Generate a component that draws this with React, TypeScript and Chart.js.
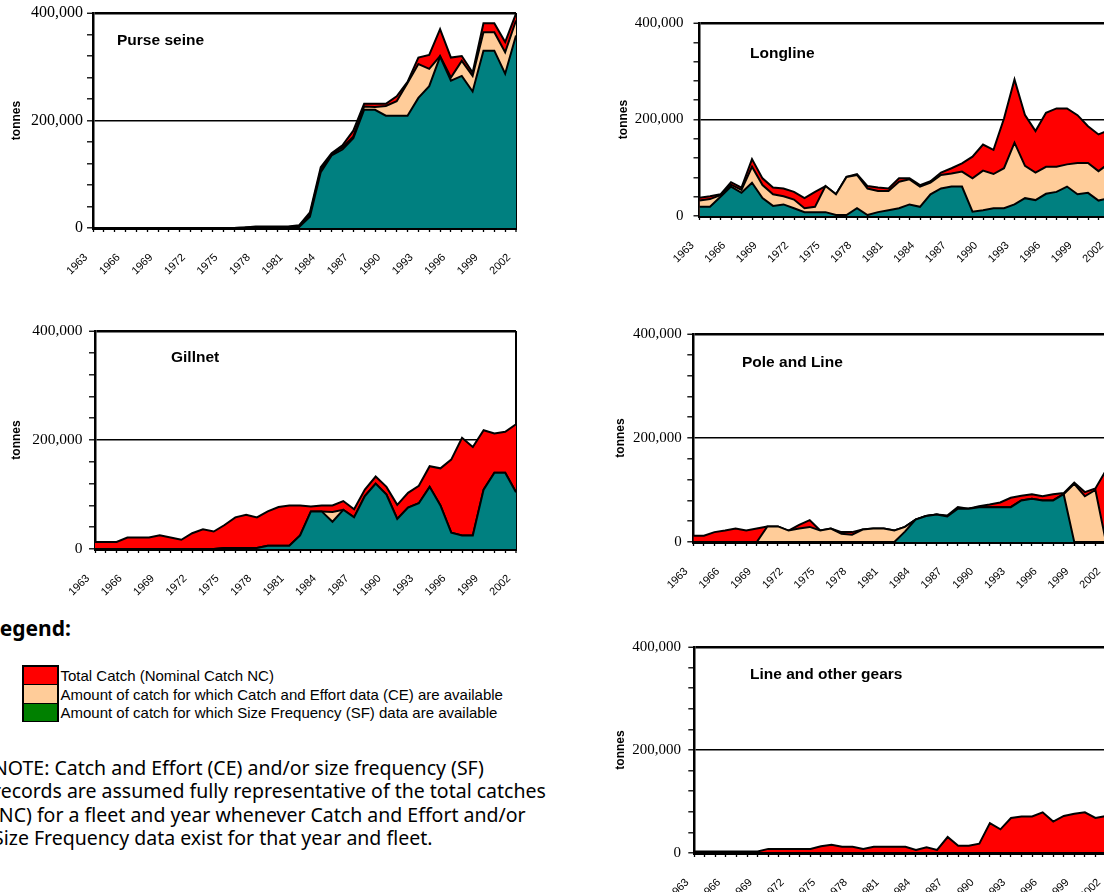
import React, { useEffect, useRef } from 'react';
import { Chart, registerables } from 'chart.js';

Chart.register(...registerables);

// ---------- categories ----------
const YEARS = [
  '1963', '1964', '1965', '1966', '1967', '1968', '1969', '1970', '1971', '1972',
  '1973', '1974', '1975', '1976', '1977', '1978', '1979', '1980', '1981', '1982',
  '1983', '1984', '1985', '1986', '1987', '1988', '1989', '1990', '1991', '1992',
  '1993', '1994', '1995', '1996', '1997', '1998', '1999', '2000', '2001', '2002',
];

// ---------- y axis ----------
const Y_MAX = 400000;
const Y_STEP = 40000;
const Y_LABELLED = [0, 200000, 400000];
const X_LABEL_EVERY = 3;

// ---------- series (tonnes) ----------
// Purse seine
const PURSE_NC = [0, 0, 0, 0, 0, 0, 0, 0, 0, 0, 0, 0, 0, 0, 1000, 3000, 3000, 3000, 3000, 5000,
  29000, 113000, 139000, 154000, 181000, 231000, 231000, 231000, 245000, 272000,
  317000, 322000, 370000, 317000, 320000, 289000, 381000, 381000, 346000, 399000];
const PURSE_CE = [0, 0, 0, 0, 0, 0, 0, 0, 0, 0, 0, 0, 0, 0, 1000, 2000, 2000, 2000, 2000, 4000,
  25000, 108000, 137000, 150000, 170000, 226000, 225000, 227000, 236000, 270000,
  305000, 296000, 320000, 280000, 311000, 283000, 364000, 364000, 327000, 386000];
const PURSE_SF = [0, 0, 0, 0, 0, 0, 0, 0, 0, 0, 0, 0, 0, 0, 0, 0, 0, 0, 0, 2000,
  21000, 104000, 135000, 146000, 167000, 220000, 220000, 209000, 209000, 209000,
  242000, 264000, 319000, 274000, 283000, 254000, 330000, 330000, 287000, 358000];

// Longline
const LONG_NC = [38000, 41000, 45000, 70000, 59000, 118000, 78000, 59000, 57000, 50000,
  37000, 50000, 62000, 45000, 81000, 87000, 62000, 59000, 57000, 78000,
  78000, 64000, 72000, 90000, 99000, 109000, 123000, 148000, 137000, 202000,
  283000, 209000, 176000, 214000, 223000, 223000, 209000, 186000, 169000, 178000];
const LONG_CE = [32000, 35000, 43000, 65000, 54000, 102000, 64000, 45000, 41000, 34000,
  16000, 19000, 62000, 45000, 81000, 85000, 57000, 52000, 52000, 71000,
  76000, 61000, 69000, 85000, 88000, 92000, 78000, 94000, 87000, 99000,
  152000, 104000, 90000, 102000, 102000, 107000, 110000, 110000, 93000, 109000];
const LONG_SF = [19000, 19000, 40000, 61000, 48000, 69000, 37000, 21000, 24000, 16000,
  8000, 8000, 8000, 2000, 2000, 16000, 2000, 8000, 12000, 16000,
  24000, 19000, 45000, 57000, 61000, 61000, 9000, 12000, 16000, 16000,
  24000, 37000, 33000, 46000, 50000, 61000, 45000, 48000, 32000, 37000];

// Gillnet
const GILL_NC = [13000, 13000, 13000, 21000, 21000, 21000, 25000, 21000, 17000, 29000,
  36000, 32000, 44000, 58000, 63000, 58000, 69000, 77000, 80000, 80000,
  78000, 80000, 80000, 88000, 73000, 109000, 133000, 114000, 81000, 103000,
  116000, 152000, 148000, 164000, 204000, 187000, 218000, 212000, 215000, 229000];
const GILL_CE = [0, 0, 0, 0, 0, 0, 0, 0, 0, 0,
  0, 0, 2000, 2000, 2000, 2000, 6000, 6000, 6000, 25000,
  69000, 69000, 68000, 72000, 58000, 97000, 120000, 100000, 55000, 76000,
  84000, 114000, 80000, 30000, 25000, 25000, 109000, 140000, 140000, 104000];
const GILL_SF = [0, 0, 0, 0, 0, 0, 0, 0, 0, 0,
  0, 0, 2000, 2000, 2000, 2000, 6000, 6000, 6000, 25000,
  69000, 69000, 50000, 72000, 58000, 97000, 120000, 100000, 55000, 76000,
  84000, 114000, 80000, 30000, 25000, 25000, 109000, 140000, 140000, 104000];

// Pole and Line
const POLE_NC = [12000, 12000, 19000, 22000, 26000, 22000, 26000, 30000, 30000, 22000,
  33000, 42000, 22000, 26000, 19000, 19000, 24000, 26000, 26000, 22000,
  29000, 43000, 50000, 53000, 51000, 67000, 64000, 69000, 72000, 76000,
  85000, 89000, 92000, 88000, 92000, 94000, 114000, 96000, 103000, 138000];
const POLE_CE = [0, 0, 0, 0, 0, 0, 0, 30000, 30000, 22000,
  26000, 29000, 22000, 26000, 16000, 14000, 24000, 26000, 26000, 22000,
  29000, 43000, 50000, 53000, 49000, 64000, 64000, 67000, 67000, 67000,
  67000, 80000, 83000, 80000, 80000, 92000, 112000, 88000, 100000, 0];
const POLE_SF = [0, 0, 0, 0, 0, 0, 0, 0, 0, 0,
  0, 0, 0, 0, 0, 0, 0, 0, 0, 0,
  20000, 43000, 50000, 53000, 49000, 64000, 64000, 67000, 67000, 67000,
  67000, 80000, 83000, 80000, 80000, 92000, 0, 0, 0, 0];

// Line and other gears
const LINE_NC = [3000, 3000, 3000, 3000, 3000, 3000, 3000, 8000, 8000, 8000,
  8000, 8000, 13000, 16000, 12000, 12000, 8000, 12000, 12000, 12000,
  12000, 6000, 11000, 6000, 31000, 14000, 14000, 18000, 58000, 46000,
  68000, 71000, 71000, 79000, 61000, 72000, 76000, 79000, 68000, 72000];
const LINE_CE = [0, 0, 0, 0, 0, 0, 0, 0, 0, 0, 0, 0, 0, 0, 0, 0, 0, 0, 0, 0,
  0, 0, 0, 0, 0, 0, 0, 0, 0, 0, 0, 0, 0, 0, 0, 0, 0, 0, 0, 0];
const LINE_SF = [0, 0, 0, 0, 0, 0, 0, 0, 0, 0, 0, 0, 0, 0, 0, 0, 0, 0, 0, 0,
  0, 0, 0, 0, 0, 0, 0, 0, 0, 0, 0, 0, 0, 0, 0, 0, 0, 0, 0, 0];

// ---------- styles ----------
const NC_COLOR = '#FF0000';
const CE_COLOR = '#FFCC99';
const SF_COLOR = '#008080';
const SF_LEGEND_COLOR = '#008000';

const LEGEND_ITEMS = [
  'Total Catch (Nominal Catch NC)',
  'Amount of catch for which Catch and Effort data (CE) are available',
  'Amount of catch for which Size Frequency (SF) data are available',
];
const NOTE_LINES = [
  'NOTE: Catch and Effort (CE) and/or size frequency (SF)',
  'records are assumed fully representative of the total catches',
  '(NC) for a fleet and year whenever Catch and Effort and/or',
  'Size Frequency data exist for that year and fleet.',
];

// ---------- panel layout (positions in page pixels) ----------
const X_AXIS_H = 55;
const PAD_RIGHT = 32;
const PAD_TOP = 30;

type Panel = {
  title: string;
  nc: number[]; ce: number[]; sf: number[];
  left: number;
  plotLeft: number; plotTop: number; plotRight: number; plotBottom: number;
  tickPad: number; yFont: number; titleX: number; titleY: number;
};

const PANELS: Panel[] = [
  { title: 'Purse seine', nc: PURSE_NC, ce: PURSE_CE, sf: PURSE_SF,
    left: 7, plotLeft: 93, plotTop: 13, plotRight: 516, plotBottom: 228,
    tickPad: 4, yFont: 16, titleX: 117, titleY: 40.6 },
  { title: 'Gillnet', nc: GILL_NC, ce: GILL_CE, sf: GILL_SF,
    left: 7, plotLeft: 95, plotTop: 331, plotRight: 516, plotBottom: 548.5,
    tickPad: 6.5, yFont: 15.5, titleX: 171, titleY: 357.3 },
  { title: 'Longline', nc: LONG_NC, ce: LONG_CE, sf: LONG_SF,
    left: 614, plotLeft: 699.5, plotTop: 22.7, plotRight: 1109, plotBottom: 216,
    tickPad: 10, yFont: 15, titleX: 750, titleY: 53.3 },
  { title: 'Pole and Line', nc: POLE_NC, ce: POLE_CE, sf: POLE_SF,
    left: 611, plotLeft: 693.3, plotTop: 334, plotRight: 1106, plotBottom: 541.7,
    tickPad: 5.6, yFont: 15, titleX: 742, titleY: 362.7 },
  { title: 'Line and other gears', nc: LINE_NC, ce: LINE_CE, sf: LINE_SF,
    left: 611, plotLeft: 694.3, plotTop: 647.3, plotRight: 1106, plotBottom: 853.3,
    tickPad: 7.3, yFont: 15, titleX: 750, titleY: 675 },
];

const panelTitle = {
  id: 'panelTitle',
  afterDraw(chart: any, _args: any, opts: any) {
    const { ctx, chartArea } = chart;
    ctx.save();
    ctx.font = 'bold 15.5px "Liberation Sans", Arial, sans-serif';
    ctx.fillStyle = '#000';
    ctx.textAlign = 'left';
    ctx.textBaseline = 'middle';
    ctx.fillText(opts.text, chartArea.left + opts.dx, chartArea.top + opts.dy);
    ctx.restore();
  },
};

function canvasBox(p: Panel) {
  const top = p.plotTop - PAD_TOP;
  return {
    top,
    w: Math.round(p.plotRight - p.left + PAD_RIGHT),
    h: Math.round(p.plotBottom - top + X_AXIS_H),
  };
}

function makeConfig(p: Panel): any {
  const last = YEARS.length - 1;
  const area = (label: string, data: number[], color: string) => ({
    label, data,
    backgroundColor: color,
    borderColor: '#000',
    borderWidth: 2,
    fill: 'origin',
    pointRadius: 0,
    pointHoverRadius: 0,
    tension: 0,
  });
  return {
    type: 'line',
    data: {
      labels: YEARS,
      datasets: [
        area('Size Frequency (SF)', p.sf, SF_COLOR),
        area('Catch and Effort (CE)', p.ce, CE_COLOR),
        area('Total Catch (NC)', p.nc, NC_COLOR),
      ],
    },
    options: {
      animation: false,
      responsive: false,
      events: [],
      layout: { padding: { top: PAD_TOP, right: PAD_RIGHT, bottom: 0, left: 0 } },
      plugins: {
        legend: { display: false },
        tooltip: { enabled: false },
        title: { display: false },
        panelTitle: { text: p.title, dx: p.titleX - p.plotLeft, dy: p.titleY - p.plotTop },
      },
      scales: {
        x: {
          type: 'category',
          offset: false,
          afterFit: (s: any) => { s.height = X_AXIS_H; },
          border: { display: true, color: '#000', width: 3 },
          grid: {
            drawOnChartArea: true,
            drawTicks: true,
            tickLength: 4,
            tickColor: '#000',
            tickWidth: 1.3,
            color: (c: any) => (c.index === last ? '#000' : 'rgba(0,0,0,0)'),
            lineWidth: (c: any) => (c.index === last ? 2 : 1),
          },
          ticks: {
            autoSkip: false,
            maxRotation: 45,
            minRotation: 45,
            padding: 19,
            labelOffset: -7,
            color: '#000',
            font: { family: '"Liberation Sans", Arial, sans-serif', size: 11 },
            callback: (_v: any, i: number) => (i % X_LABEL_EVERY === 0 ? YEARS[i] : ''),
          },
        },
        y: {
          type: 'linear',
          min: 0,
          max: Y_MAX,
          afterFit: (s: any) => { s.width = p.plotLeft - p.left; },
          border: { display: true, color: '#000', width: 2.5 },
          grid: {
            drawOnChartArea: true,
            drawTicks: true,
            tickLength: 6,
            tickColor: '#000',
            tickWidth: 1.3,
            color: (c: any) => (c.tick && (c.tick.value === 200000 || c.tick.value === Y_MAX) ? '#000' : 'rgba(0,0,0,0)'),
            lineWidth: (c: any) => (c.tick && c.tick.value === Y_MAX ? 2.5 : 1.6),
          },
          ticks: {
            stepSize: Y_STEP,
            autoSkip: false,
            padding: p.tickPad,
            color: '#000',
            font: { family: '"Liberation Serif", "Times New Roman", serif', size: p.yFont },
            callback: (v: any) => (Y_LABELLED.includes(Number(v)) ? Number(v).toLocaleString('en-US') : ''),
          },
          title: {
            display: true,
            text: 'tonnes',
            color: '#000',
            font: { family: '"Liberation Sans", Arial, sans-serif', size: 12, weight: 'bold' },
            padding: { top: 2, bottom: 0 },
          },
        },
      },
    },
    plugins: [panelTitle],
  };
}

function ChartPanel({ p }: { p: Panel }) {
  const ref = useRef<HTMLCanvasElement | null>(null);
  useEffect(() => {
    if (!ref.current) return;
    const chart = new Chart(ref.current, makeConfig(p));
    return () => chart.destroy();
  }, [p]);
  const { top, w, h } = canvasBox(p);
  return (
    <canvas
      ref={ref}
      width={w}
      height={h}
      style={{ position: 'absolute', left: p.left, top, width: w, height: h }}
    />
  );
}

export default function App() {
  const legendColors = [NC_COLOR, CE_COLOR, SF_LEGEND_COLOR];
  return (
    <div
      style={{
        position: 'absolute', left: 0, top: 0, width: 1104, height: 892,
        overflow: 'hidden', background: '#fff',
      }}
    >
      {PANELS.map((p) => <ChartPanel key={p.title} p={p} />)}

      <div
        style={{
          position: 'absolute', left: -12, top: 616, whiteSpace: 'nowrap',
          font: 'bold 21px "Noto Sans", sans-serif', lineHeight: '25.2px', color: '#000',
        }}
      >
        Legend:
      </div>

      <div
        style={{
          position: 'absolute', left: 22, top: 665, width: 33,
          borderLeft: '2.5px solid #000', borderRight: '2.5px solid #000',
        }}
      >
        {legendColors.map((c, i) => (
          <div
            key={i}
            style={{
              height: i === 1 ? 18 : 17,
              background: c,
              borderTop: i === 0 ? '2px solid #000' : '1px solid #000',
              borderBottom: i === 2 ? '1px solid #000' : 'none',
            }}
          />
        ))}
      </div>

      <div
        style={{
          position: 'absolute', left: 60.5, top: 667, whiteSpace: 'nowrap',
          font: '15px "Liberation Sans", Arial, sans-serif', lineHeight: '18.7px', color: '#000',
        }}
      >
        {LEGEND_ITEMS.map((t) => <div key={t}>{t}</div>)}
      </div>

      <div
        style={{
          position: 'absolute', left: -7, top: 756, whiteSpace: 'nowrap',
          font: '19.5px "Noto Sans", sans-serif', lineHeight: '23.3px', color: '#000',
        }}
      >
        {NOTE_LINES.map((t) => <div key={t}>{t}</div>)}
      </div>
    </div>
  );
}
